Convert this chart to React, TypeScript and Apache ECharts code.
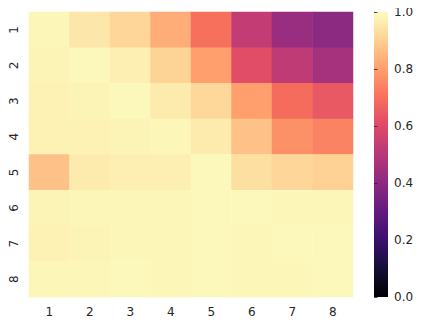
import React, { useEffect, useRef } from "react";
import * as echarts from "echarts";

const xCategories = ["1", "2", "3", "4", "5", "6", "7", "8"];
const yCategories = ["1", "2", "3", "4", "5", "6", "7", "8"];
const row1 = [0.985, 0.95, 0.915, 0.83, 0.7, 0.53, 0.43, 0.4];
const row2 = [0.98, 0.99, 0.97, 0.91, 0.8, 0.61, 0.52, 0.46];
const row3 = [0.975, 0.98, 0.99, 0.96, 0.92, 0.8, 0.69, 0.64];
const row4 = [0.975, 0.975, 0.98, 0.985, 0.96, 0.87, 0.77, 0.74];
const row5 = [0.87, 0.96, 0.97, 0.97, 0.99, 0.935, 0.915, 0.905];
const row6 = [0.98, 0.985, 0.985, 0.985, 0.99, 0.99, 0.985, 0.985];
const row7 = [0.975, 0.98, 0.985, 0.985, 0.99, 0.985, 0.99, 0.99];
const row8 = [0.985, 0.985, 0.99, 0.985, 0.99, 0.985, 0.985, 0.99];
const rows = [row1, row2, row3, row4, row5, row6, row7, row8];
const colorbarTicks = [0, 0.2, 0.4, 0.6, 0.8, 1.0];
const magma = [
  "#000004", "#140e36", "#3b0f70", "#641a80", "#8c2981", "#b73779",
  "#de4968", "#f7705c", "#fe9f6d", "#fecf92", "#fcfdbf",
];

const FONT = "DejaVu Sans";
const TEXT = "#262626";

export default function App() {
  const ref = useRef<HTMLDivElement>(null);
  useEffect(() => {
    if (!ref.current) return;
    const chart = echarts.init(ref.current, null, { renderer: "svg" });
    const data: [number, number, number][] = [];
    rows.forEach((r, yi) => r.forEach((v, xi) => data.push([xi, yi, v])));
    const cbTop = 12, cbHeight = 285, cbLeft = 374, cbWidth = 14;
    chart.setOption({
      animation: false,
      backgroundColor: "#ffffff",
      grid: [
        { left: 29, top: 12, width: 324, height: 285 },
        { left: cbLeft, top: cbTop, width: cbWidth, height: cbHeight },
      ],
      xAxis: [
        {
          type: "category", data: xCategories, gridIndex: 0, position: "bottom",
          axisLine: { show: false }, axisTick: { show: false }, splitLine: { show: false },
          axisLabel: { fontFamily: FONT, fontSize: 12, color: TEXT, margin: 9 },
        },
        { type: "value", gridIndex: 1, show: false, min: 0, max: 1 },
      ],
      yAxis: [
        {
          type: "category", data: yCategories, gridIndex: 0, inverse: true,
          axisLine: { show: false }, axisTick: { show: false }, splitLine: { show: false },
          axisLabel: { fontFamily: FONT, fontSize: 12, color: TEXT, rotate: 90, margin: 9 },
        },
        {
          type: "value", gridIndex: 1, position: "right", min: 0, max: 1, interval: 0.2,
          axisLine: { show: false }, splitLine: { show: false },
          axisTick: { show: true, length: 3.5, lineStyle: { color: TEXT, width: 0.8 } },
          axisLabel: {
            fontFamily: FONT, fontSize: 12, color: TEXT, margin: 6,
            formatter: (v: number) => (colorbarTicks.some((t) => Math.abs(t - v) < 1e-9) ? v.toFixed(1) : ""),
          },
        },
      ],
      visualMap: {
        show: false, type: "continuous", min: 0, max: 1, seriesIndex: 0,
        inRange: { color: magma },
      },
      graphic: [
        {
          type: "rect",
          shape: { x: cbLeft, y: cbTop, width: cbWidth, height: cbHeight },
          style: {
            fill: new echarts.graphic.LinearGradient(0, 1, 0, 0,
              magma.map((c, i) => ({ offset: i / (magma.length - 1), color: c }))),
          },
          z: 0,
        },
      ],
      series: [
        {
          type: "heatmap", data, xAxisIndex: 0, yAxisIndex: 0,
          itemStyle: { borderWidth: 0 }, emphasis: { disabled: true },
        },
        { type: "scatter", data: [], xAxisIndex: 1, yAxisIndex: 1 },
      ],
    });
    return () => chart.dispose();
  }, []);
  return <div ref={ref} style={{ width: 426, height: 328, margin: -8 }} />;
}
